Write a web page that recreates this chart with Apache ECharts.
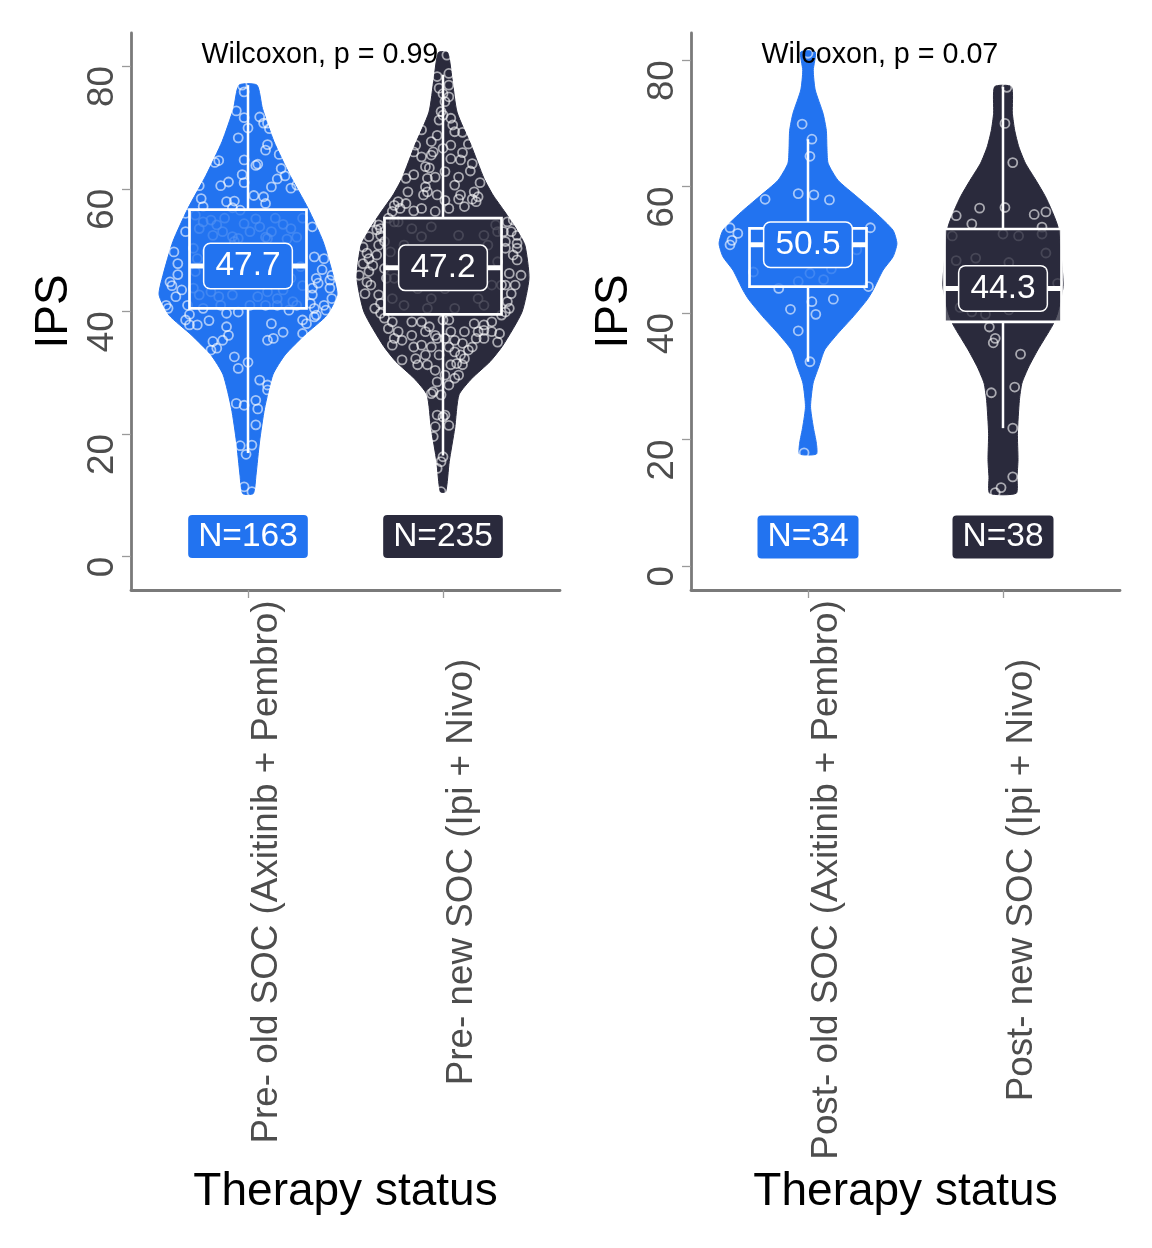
<!DOCTYPE html>
<html><head><meta charset="utf-8">
<script src="https://cdn.jsdelivr.net/npm/echarts@6/dist/echarts.min.js"></script>
<style>html,body{margin:0;padding:0;background:#fff}#c{width:1152px;height:1248px}</style>
</head><body><div id="c"></div>
<script>
// ---------- data ----------
const preCategories = ['Pre- old SOC (Axitinib + Pembro)', 'Pre- new SOC (Ipi + Nivo)'];
const postCategories = ['Post- old SOC (Axitinib + Pembro)', 'Post- new SOC (Ipi + Nivo)'];
const yTicks = [0, 20, 40, 60, 80];
const xTitle = 'Therapy status';
const yTitle = 'IPS';
const pLabels = ['Wilcoxon, p = 0.99', 'Wilcoxon, p = 0.07'];
const nPre = [163, 235];
const nPost = [34, 38];
const medianTextPre = ['47.7', '47.2'];
const medianTextPost = ['50.5', '44.3'];

// box stats: [lower whisker, Q1, median, Q3, upper whisker]
const boxPreOld = [16.9, 40.5, 47.4, 56.6, 76.9];
const boxPreNew = [16.5, 39.5, 47.1, 55.2, 78.6];
const boxPostOld = [32.3, 44.2, 50.8, 53.4, 67.5];
const boxPostNew = [21.8, 38.6, 43.9, 53.3, 75.8];

// violin profiles: [IPS, half width in category units]
const violinPreOld = [[76.9,0.046],[73.1,0.074],[67.7,0.133],[62.2,0.215],[56.8,0.308],[51.4,0.385],[45.9,0.436],[42.7,0.456],[39.4,0.405],[36.2,0.292],[32.9,0.19],[29.7,0.128],[24.2,0.085],[18.7,0.059],[13.3,0.041],[10.3,0.027]];
const violinPreNew = [[82.2,0.024],[78.0,0.046],[72.5,0.072],[67.1,0.144],[61.7,0.21],[59.0,0.256],[56.2,0.318],[53.5,0.374],[50.8,0.42],[45.4,0.441],[39.9,0.405],[34.5,0.308],[31.8,0.241],[29.1,0.149],[26.4,0.082],[20.9,0.06],[15.5,0.032],[10.6,0.014]];
const violinPostOld = [[81.3,0.037],[78.4,0.027],[75.3,0.037],[71.6,0.077],[68.9,0.094],[66.3,0.097],[63.7,0.103],[61.0,0.154],[58.4,0.251],[55.8,0.349],[53.1,0.436],[51.0,0.456],[48.9,0.436],[46.8,0.385],[43.6,0.333],[42.1,0.303],[39.4,0.231],[36.8,0.154],[34.2,0.086],[31.5,0.055],[28.9,0.026],[25.2,0.013],[22.0,0.027],[19.4,0.043],[17.7,0.043]];
const violinPostNew = [[75.8,0.043],[71.6,0.048],[68.9,0.06],[66.3,0.081],[63.7,0.115],[61.0,0.169],[58.4,0.218],[55.8,0.256],[53.6,0.282],[48.4,0.3],[44.2,0.308],[40.0,0.28],[38.1,0.255],[34.2,0.179],[31.5,0.132],[28.9,0.097],[26.2,0.084],[21.0,0.074],[16.8,0.077],[14.1,0.072],[11.5,0.068]];

// jittered observations: [horizontal jitter, IPS]
const pointsPreOld = [[-0.03,76.9],[-0.02,75.8],[-0.06,72.7],[-0.02,71.6],[0.0,69.9],[0.06,71.7],[0.08,70.7],[0.10,70.7],[0.11,69.8],[-0.05,68.3],[0.10,67.2],[0.09,66.3],[0.16,65.6],[-0.17,64.3],[-0.15,64.6],[-0.02,64.7],[0.04,63.8],[0.05,64.0],[0.17,63.3],[0.19,62.1],[-0.03,62.3],[-0.02,61.0],[-0.10,61.1],[-0.14,60.5],[0.15,61.6],[0.12,60.3],[-0.25,60.5],[-0.24,58.4],[-0.23,57.1],[-0.11,57.9],[-0.07,58.0],[0.03,58.9],[0.08,58.7],[0.09,57.6],[0.22,60.1],[0.25,60.6],[-0.08,56.9],[-0.04,56.5],[-0.32,56.0],[-0.32,53.0],[-0.19,54.9],[-0.25,53.5],[-0.18,52.4],[-0.13,53.0],[-0.08,52.2],[-0.05,51.9],[0.04,55.1],[0.14,55.2],[0.18,54.2],[0.09,52.1],[0.10,51.9],[0.20,51.8],[0.25,52.1],[0.33,53.8],[-0.38,49.7],[-0.36,47.8],[-0.26,48.6],[-0.07,51.4],[0.34,48.9],[0.39,48.6],[-0.40,44.8],[-0.39,44.2],[-0.34,43.5],[-0.37,42.4],[-0.28,43.8],[-0.42,41.0],[-0.41,40.5],[-0.31,41.0],[-0.19,43.2],[-0.15,42.4],[-0.23,40.5],[-0.11,39.7],[-0.05,39.9],[0.01,41.0],[0.05,42.4],[0.09,41.0],[0.15,41.0],[0.21,40.2],[0.25,41.0],[0.18,43.5],[0.35,45.4],[0.36,44.6],[0.42,45.1],[0.43,45.9],[0.33,43.8],[0.33,42.7],[0.32,41.3],[0.34,40.5],[0.39,41.0],[0.43,42.1],[0.42,43.8],[0.40,40.2],[0.34,39.1],[0.35,39.4],[0.28,38.6],[0.28,36.4],[0.18,36.6],[0.10,35.3],[0.13,35.6],[-0.32,38.6],[-0.30,37.8],[-0.26,37.8],[-0.11,37.5],[-0.10,36.1],[-0.13,35.3],[-0.18,35.1],[-0.19,33.7],[-0.16,34.0],[-0.07,32.6],[-0.05,30.7],[0.0,31.7],[0.06,28.8],[0.10,28.0],[0.10,27.2],[-0.06,25.0],[-0.02,24.7],[0.04,25.5],[0.05,24.1],[0.04,21.5],[-0.04,18.1],[0.02,18.2],[-0.01,16.7],[-0.02,11.4],[0.02,10.6],[-0.27,55.7],[-0.23,54.6],[-0.16,54.1],[-0.12,55.2],[-0.02,54.3],[0.01,53.0],[0.06,53.8],[0.12,53.0],[0.22,53.5],[0.28,55.2],[-0.28,50.3],[-0.21,49.7],[-0.11,49.2],[-0.02,50.3],[0.03,48.9],[0.11,50.3],[0.20,49.7],[0.27,47.3],[-0.27,46.5],[-0.20,47.0],[-0.14,45.4],[0.11,45.9],[0.22,45.4],[0.28,44.2],[-0.25,42.7],[-0.14,41.0],[-0.08,42.7],[0.10,43.2],[0.15,42.1],[0.23,41.6],[-0.36,46.0],[0.38,46.8],[-0.30,39.5],[0.30,38.0],[0.12,38.0],[-0.20,38.5]];
const pointsPreNew = [[0.02,81.8],[0.03,78.8],[-0.02,76.4],[0.0,75.5],[0.03,75.0],[-0.01,72.6],[0.0,72.0],[-0.02,71.2],[0.04,71.5],[0.05,70.4],[0.06,69.3],[0.10,69.2],[-0.11,69.6],[-0.06,67.7],[-0.14,67.1],[-0.15,66.0],[-0.05,66.0],[-0.06,65.5],[0.0,66.6],[0.13,67.3],[0.10,65.9],[0.04,64.9],[0.09,64.7],[0.15,64.1],[0.14,62.9],[-0.09,63.6],[-0.07,63.4],[0.01,62.8],[-0.15,62.3],[-0.19,61.7],[-0.09,60.3],[-0.08,59.5],[-0.10,59.0],[0.09,59.0],[0.08,58.3],[0.01,58.1],[0.03,56.8],[0.16,59.5],[0.18,58.7],[0.17,57.9],[0.15,58.3],[0.19,61.0],[-0.23,57.9],[-0.22,56.8],[-0.25,57.3],[-0.19,57.6],[-0.26,56.3],[-0.15,56.4],[-0.04,56.3],[-0.23,54.6],[-0.28,55.2],[-0.33,54.1],[-0.34,53.3],[-0.32,52.4],[-0.37,54.6],[0.33,54.6],[0.36,54.9],[0.38,52.4],[0.38,51.1],[0.35,53.0],[0.31,53.0],[-0.41,50.5],[-0.39,49.5],[-0.38,48.6],[-0.41,47.8],[-0.33,50.8],[-0.34,49.2],[-0.43,45.9],[-0.39,44.8],[-0.38,46.5],[-0.40,42.9],[-0.33,42.7],[-0.35,40.5],[-0.32,39.7],[-0.32,41.3],[0.32,50.3],[0.36,49.2],[0.38,48.4],[0.34,46.2],[0.40,45.9],[0.35,42.9],[0.33,41.6],[0.34,40.5],[0.32,39.9],[-0.26,38.3],[-0.25,35.6],[-0.21,35.3],[-0.26,34.5],[-0.11,38.3],[-0.07,37.5],[-0.09,36.7],[-0.04,36.1],[-0.03,35.6],[0.01,35.6],[0.0,38.6],[0.03,38.6],[0.06,35.3],[0.10,34.8],[0.13,33.7],[0.15,34.2],[0.16,38.0],[0.21,37.8],[0.21,36.9],[0.18,36.7],[0.29,36.4],[0.28,35.0],[-0.21,32.1],[-0.14,32.3],[-0.09,32.9],[-0.04,30.4],[0.04,31.3],[0.07,31.5],[0.09,32.9],[0.11,32.3],[0.10,31.3],[-0.05,26.9],[-0.06,26.6],[-0.01,26.4],[-0.03,23.1],[0.0,22.8],[0.01,23.1],[-0.04,21.2],[-0.05,19.6],[0.03,21.4],[0.0,16.3],[-0.01,15.5],[-0.03,14.4],[-0.01,10.6],[-0.25,54.6],[-0.16,53.5],[-0.06,53.8],[0.08,52.4],[0.21,52.4],[0.27,54.1],[-0.27,49.7],[-0.20,50.8],[-0.13,48.6],[0.01,49.7],[0.13,50.0],[0.23,50.8],[0.28,48.1],[-0.25,45.4],[-0.13,43.7],[-0.06,42.1],[0.01,43.7],[0.09,44.3],[0.18,42.1],[0.25,44.3],[-0.20,41.0],[-0.08,40.5],[0.06,40.5],[0.21,41.0],[0.28,53.0],[-0.29,45.4],[-0.16,46.5],[0.18,45.9],[-0.11,52.2],[0.30,44.3],[-0.36,47.5],[-0.30,47.0],[-0.38,52.2],[0.32,51.4],[0.32,44.3],[0.30,39.4],[-0.30,38.9],[-0.28,37.2],[-0.23,36.7],[-0.16,36.1],[-0.15,34.2],[-0.11,34.5],[-0.06,34.2],[-0.02,32.9],[0.03,34.2],[0.06,33.4],[0.17,35.6],[0.21,35.6],[0.25,36.7],[-0.16,38.3],[0.25,38.3],[0.11,36.7],[0.04,36.7],[-0.08,31.3],[0.01,29.6],[0.08,29.6],[-0.13,31.3],[-0.03,28.5],[0.03,28.0],[0.06,29.1],[-0.26,42.1],[-0.37,44.3],[0.37,44.3],[0.38,50.3],[-0.32,53.5],[-0.30,51.4],[-0.18,59.5],[-0.03,59.0],[-0.11,56.8],[0.11,57.1],[0.06,60.6],[-0.04,61.9],[0.08,61.9],[-0.11,65.2],[0.04,67.1],[-0.03,68.7],[0.01,74.2],[-0.03,78.3],[0.03,76.9],[-0.08,61.7]];
const pointsPostOld = [[0.0,81.1],[-0.03,69.9],[0.02,67.5],[0.01,64.8],[-0.22,58.0],[-0.05,58.9],[0.03,58.7],[0.11,57.9],[-0.40,53.5],[-0.36,52.6],[-0.39,51.5],[-0.40,50.8],[0.32,53.5],[0.01,46.3],[0.08,45.3],[-0.15,43.9],[0.31,44.2],[-0.09,40.6],[0.02,41.8],[0.13,42.2],[0.04,39.8],[-0.05,37.2],[0.01,32.3],[-0.02,17.9],[-0.10,52.0],[0.05,49.5],[0.20,51.2],[-0.20,48.0],[0.12,47.0],[-0.05,45.0],[0.25,50.0],[-0.28,46.5],[0.15,53.0],[-0.12,50.5]];
const pointsPostNew = [[0.02,75.7],[0.01,70.0],[0.05,63.8],[-0.12,56.6],[0.01,56.7],[-0.24,55.4],[-0.16,54.1],[0.16,55.6],[0.22,56.0],[0.20,53.6],[-0.26,52.2],[0.0,52.5],[0.08,52.2],[0.20,52.5],[-0.24,48.3],[-0.14,48.7],[0.03,48.0],[0.28,44.7],[-0.22,40.9],[-0.16,40.2],[-0.09,39.8],[0.03,40.5],[-0.07,37.8],[-0.04,36.0],[-0.05,35.3],[0.09,33.5],[-0.06,27.4],[0.06,28.3],[0.05,21.8],[0.05,14.1],[-0.01,12.4],[-0.04,11.6],[-0.10,45.5],[0.15,43.0],[-0.20,46.5],[0.10,46.0],[0.22,49.5],[-0.05,42.5]];

// ---------- styling ----------
const FONT = '"Liberation Sans", Arial, Helvetica, sans-serif';
const COLORS = ['#2273f0', '#2a2a3c'];
const BOX_FILL = ['rgba(34,115,240,0.78)', 'rgba(42,42,60,0.78)'];
const BOX_HALF = 0.3;

const panels = [
  {cats: preCategories, violins: [violinPreOld, violinPreNew], boxes: [boxPreOld, boxPreNew],
   points: [pointsPreOld, pointsPreNew], n: nPre, med: medianTextPre, p: pLabels[0],
   yMin: -5.43, yMax: 85.4, nY: 3.3, pY: 81.8, labelMargin: 282},
  {cats: postCategories, violins: [violinPostOld, violinPostNew], boxes: [boxPostOld, boxPostNew],
   points: [pointsPostOld, pointsPostNew], n: nPost, med: medianTextPost, p: pLabels[1],
   yMin: -3.8, yMax: 84.3, nY: 4.6, pY: 80.8, labelMargin: 290}
];

const grids = [
  {left: 131, top: 33, width: 429, height: 557},
  {left: 691, top: 33, width: 429, height: 557}
];

const xAxes = panels.map((pn, g) => ({
  type: 'value', gridIndex: g, min: 0.4, max: 2.6,
  axisLine: {show: true, onZero: false, lineStyle: {color: '#7a7a7a', width: 2.8}},
  axisTick: {show: true, customValues: [1, 2], length: 8, lineStyle: {color: '#9a9a9a', width: 1.3}},
  axisLabel: {customValues: [1, 2], formatter: v => pn.cats[Math.round(v) - 1], rotate: 90,
    align: 'center', verticalAlign: 'top', margin: pn.labelMargin,
    fontSize: 36.8, color: '#4d4d4d', fontFamily: FONT},
  splitLine: {show: false},
  name: xTitle, nameLocation: 'middle', nameGap: 579,
  nameTextStyle: {fontSize: 46, color: '#000', fontFamily: FONT}
}));

const yAxes = panels.map((pn, g) => ({
  type: 'value', gridIndex: g, min: pn.yMin, max: pn.yMax,
  axisLine: {show: true, onZero: false, lineStyle: {color: '#7a7a7a', width: 2.8}},
  axisTick: {show: true, customValues: yTicks, length: 9, lineStyle: {color: '#9a9a9a', width: 1.3}},
  axisLabel: {customValues: yTicks, rotate: 90, align: 'right', verticalAlign: 'middle', margin: 28,
    fontSize: 36.8, color: '#4d4d4d', fontFamily: FONT},
  splitLine: {show: false},
  name: yTitle, nameLocation: 'middle', nameRotate: 90, nameGap: 54,
  nameTextStyle: {fontSize: 46, color: '#000', fontFamily: FONT}
}));

const hiddenItem = {color: 'rgba(0,0,0,0)', opacity: 1};

const series = [];
panels.forEach((pn, g) => {
  // violins
  series.push({
    type: 'custom', xAxisIndex: g, yAxisIndex: g, z: 1, silent: true,
    data: pn.violins.map((v, i) => [i + 1, i]),
    renderItem: function (params, api) {
      const i = params.dataIndex, cx = i + 1, prof = pn.violins[i];
      const right = prof.map(d => api.coord([cx + d[1], d[0]]));
      const left = prof.slice().reverse().map(d => api.coord([cx - d[1], d[0]]));
      return {type: 'polygon', shape: {points: right.concat(left), smooth: 0.2},
        style: {fill: COLORS[i], stroke: COLORS[i], lineWidth: 1}};
    }
  });
  // jittered points
  pn.points.forEach((pts, i) => {
    series.push({
      type: 'scatter', xAxisIndex: g, yAxisIndex: g, z: 2, silent: true,
      symbol: 'circle', symbolSize: 9,
      itemStyle: {color: 'rgba(0,0,0,0)', borderColor: 'rgba(255,255,255,0.6)', borderWidth: 1.8, opacity: 1},
      data: pts.map(p => [i + 1 + p[0], p[1]])
    });
  });
  // boxes
  series.push({
    type: 'custom', xAxisIndex: g, yAxisIndex: g, z: 3, silent: true,
    data: pn.boxes.map((b, i) => [i + 1, b[0], b[1], b[2], b[3], b[4]]),
    renderItem: function (params, api) {
      const i = params.dataIndex, cx = i + 1, b = pn.boxes[i];
      const lo = api.coord([cx, b[0]]), hi = api.coord([cx, b[4]]);
      const tl = api.coord([cx - BOX_HALF, b[3]]), br = api.coord([cx + BOX_HALF, b[1]]);
      const ml = api.coord([cx - BOX_HALF, b[2]]), mr = api.coord([cx + BOX_HALF, b[2]]);
      return {type: 'group', children: [
        {type: 'line', shape: {x1: lo[0], y1: lo[1], x2: lo[0], y2: br[1]}, style: {stroke: '#fff', lineWidth: 2.5}},
        {type: 'line', shape: {x1: hi[0], y1: hi[1], x2: hi[0], y2: tl[1]}, style: {stroke: '#fff', lineWidth: 2.5}},
        {type: 'rect', shape: {x: tl[0], y: tl[1], width: br[0] - tl[0], height: br[1] - tl[1]},
          style: {fill: BOX_FILL[i], stroke: '#fff', lineWidth: 2.7}},
        {type: 'line', shape: {x1: ml[0], y1: ml[1], x2: mr[0], y2: mr[1]}, style: {stroke: '#fff', lineWidth: 5}}
      ]};
    }
  });
  // median labels
  series.push({
    type: 'scatter', xAxisIndex: g, yAxisIndex: g, z: 4, silent: true,
    symbol: 'rect', symbolSize: 1, itemStyle: hiddenItem,
    data: pn.boxes.map((b, i) => ({
      value: [i + 1, b[2]],
      label: {show: true, position: 'inside', formatter: pn.med[i], fontSize: 33.5, fontFamily: FONT,
        color: '#fff', backgroundColor: COLORS[i], borderColor: '#fff', borderWidth: 1.5,
        borderRadius: 6, padding: [3, 11, 3, 11], lineHeight: 38, opacity: 1}
    }))
  });
  // N labels
  series.push({
    type: 'scatter', xAxisIndex: g, yAxisIndex: g, z: 4, silent: true,
    symbol: 'rect', symbolSize: 1, itemStyle: hiddenItem,
    data: pn.n.map((n, i) => ({
      value: [i + 1, pn.nY],
      label: {show: true, position: 'inside', formatter: 'N=' + n, fontSize: 33.5, fontFamily: FONT,
        color: '#fff', backgroundColor: COLORS[i], borderRadius: 4, padding: [3, 10, 3, 10], lineHeight: 37, opacity: 1}
    }))
  });
  // Wilcoxon label
  series.push({
    type: 'scatter', xAxisIndex: g, yAxisIndex: g, z: 5, silent: true,
    symbol: 'rect', symbolSize: 1, itemStyle: hiddenItem,
    data: [{value: [0.759, pn.pY],
      label: {show: true, position: 'right', distance: 0, formatter: pn.p, fontSize: 28.7,
        fontFamily: FONT, color: '#000', opacity: 1}}]
  });
});

const chart = echarts.init(document.getElementById('c'), null, {renderer: 'canvas'});
chart.setOption({
  animation: false,
  backgroundColor: '#fff',
  grid: grids,
  xAxis: xAxes,
  yAxis: yAxes,
  series: series
});
</script>
</body></html>
